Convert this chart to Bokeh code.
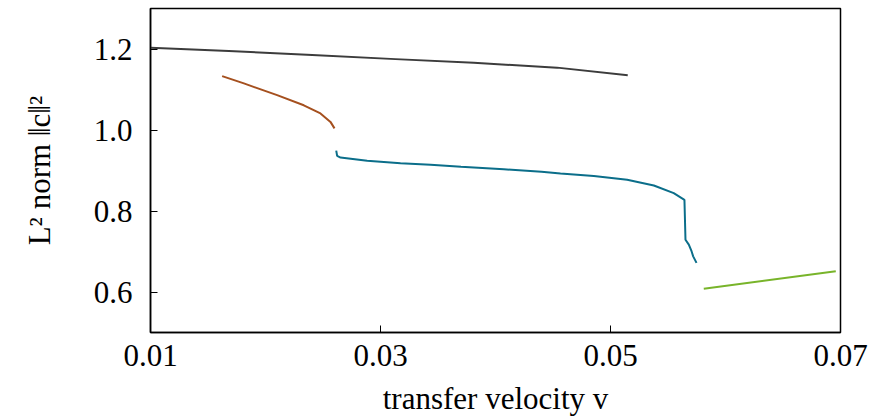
from bokeh.plotting import figure
from bokeh.models import FixedTicker, Range1d, NumeralTickFormatter
from bokeh.embed import file_html
from bokeh.resources import INLINE

# Data
black_x = [0.0100, 0.01681, 0.02406, 0.03130, 0.03811, 0.04536, 0.05150]
black_y = [1.2033, 1.195, 1.185, 1.175, 1.166, 1.154, 1.135]

brown_x = [0.01623, 0.01812, 0.02101, 0.02333, 0.02478, 0.02565, 0.02600]
brown_y = [1.133, 1.115, 1.086, 1.061, 1.041, 1.020, 1.004]

teal_x = [0.02615, 0.02623, 0.02652, 0.02884, 0.03174, 0.03435, 0.03700, 0.04072,
          0.04400, 0.04565, 0.04855, 0.05145, 0.05377, 0.05550, 0.05643, 0.05652,
          0.05681, 0.05702, 0.05719, 0.05748]
teal_y = [0.949, 0.936, 0.932, 0.924, 0.918, 0.914, 0.909, 0.903,
          0.897, 0.8925, 0.8867, 0.877, 0.863, 0.844, 0.8277, 0.729,
          0.717, 0.703, 0.688, 0.672]

green_x = [0.05811, 0.06959]
green_y = [0.608, 0.651]

x_ticks = [0.01, 0.03, 0.05, 0.07]
y_ticks = [0.6, 0.8, 1.0, 1.2]

FONT = "Liberation Serif"
FS = "31px"

p = figure(width=874, height=420, output_backend="svg", toolbar_location=None,
           x_range=Range1d(0.01, 0.07), y_range=Range1d(0.5, 1.3),
           min_border_left=150, min_border_right=34, min_border_top=8,
           min_border_bottom=88)
p.background_fill_color = "white"
p.border_fill_color = "white"
p.grid.visible = False
p.outline_line_color = "black"
p.outline_line_width = 1.5
p.outline_line_alpha = 1.0

for ax in (p.xaxis[0], p.yaxis[0]):
    ax.major_tick_in = 7
    ax.major_tick_out = 0
    ax.minor_tick_line_color = None
    ax.axis_line_width = 1.5
    ax.axis_line_color = "black"
    ax.major_tick_line_color = "black"
    ax.major_tick_line_width = 1
    ax.major_label_text_font = FONT
    ax.major_label_text_font_size = FS
    ax.major_label_text_color = "black"
    ax.axis_label_text_font = FONT
    ax.axis_label_text_font_size = FS
    ax.axis_label_text_font_style = "normal"
    ax.axis_label_text_color = "black"

p.xaxis[0].ticker = FixedTicker(ticks=x_ticks)
p.yaxis[0].ticker = FixedTicker(ticks=y_ticks)
p.xaxis[0].formatter = NumeralTickFormatter(format="0.00")
p.yaxis[0].formatter = NumeralTickFormatter(format="0.0")
p.xaxis[0].major_label_standoff = 12
p.yaxis[0].major_label_standoff = 18
p.xaxis[0].axis_label = "transfer velocity v"
p.yaxis[0].axis_label = "L² norm ‖c‖²"
p.xaxis[0].axis_label_standoff = 12
p.yaxis[0].axis_label_standoff = 34

p.line(black_x, black_y, line_color="#3c3c3c", line_width=2)
p.line(brown_x, brown_y, line_color="#a5501f", line_width=2)
p.line(teal_x, teal_y, line_color="#0b6e8a", line_width=2)
p.line(green_x, green_y, line_color="#78b42a", line_width=2)

open("out.html", "w").write(file_html(p, INLINE))
